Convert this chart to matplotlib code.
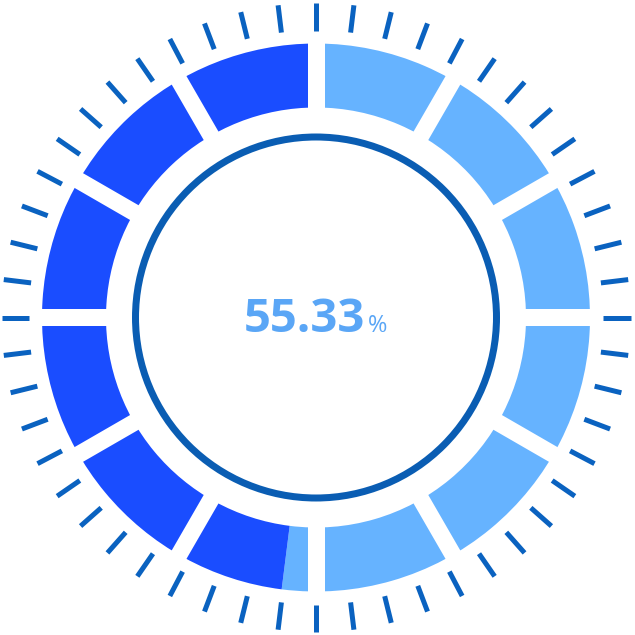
import numpy as np
import matplotlib
matplotlib.use("Agg")
import matplotlib.pyplot as plt
from matplotlib.patches import Wedge, Circle, Polygon

# ---- data ----
value_label = 55.33          # percentage shown in the centre
light_share = 0.52           # share of the ring drawn in light blue (clockwise from top)
n_segments = 12              # ring segments
n_ticks = 52                 # outer tick marks

# ---- style ----
W = H = 635
cx, cy = 316.0, 317.5
r_out, r_in = 274.0, 210.0
gap_w = 17.0
tick_r0, tick_r1 = 287.0, 314.5
circle_r = 180.5
light_col = "#66b3ff"
dark_col = "#1a4dff"
tick_col = "#0a62c0"
circle_col = "#0a5db3"
text_col = "#5aa6f6"

fig = plt.figure(figsize=(W / 100, H / 100), dpi=100)
ax = fig.add_axes([0, 0, 1, 1])
ax.set_xlim(0, W)
ax.set_ylim(0, H)
ax.set_aspect("equal")
ax.axis("off")

def math_angle(a):  # clockwise-from-top degrees -> matplotlib degrees
    return 90.0 - a

split = light_share * 360.0
ax.add_patch(Wedge((cx, cy), r_out, math_angle(split), 90, width=r_out - r_in,
                   facecolor=light_col, edgecolor="none"))
ax.add_patch(Wedge((cx, cy), r_out, 90, math_angle(split) + 360, width=r_out - r_in,
                   facecolor=dark_col, edgecolor="none"))

# white gaps between segments (parallel-sided)
for k in range(n_segments):
    a = np.deg2rad(k * 360.0 / n_segments)
    ux, uy = np.sin(a), np.cos(a)
    px, py = -uy, ux
    r0, r1 = r_in - 5, r_out + 5
    h = gap_w / 2
    pts = [(cx + ux * r0 + px * h, cy + uy * r0 + py * h),
           (cx + ux * r1 + px * h, cy + uy * r1 + py * h),
           (cx + ux * r1 - px * h, cy + uy * r1 - py * h),
           (cx + ux * r0 - px * h, cy + uy * r0 - py * h)]
    ax.add_patch(Polygon(pts, closed=True, facecolor="white", edgecolor="none"))

# outer ticks
for k in range(n_ticks):
    a = np.deg2rad(k * 360.0 / n_ticks)
    ux, uy = np.sin(a), np.cos(a)
    ax.plot([cx + ux * tick_r0, cx + ux * tick_r1], [cy + uy * tick_r0, cy + uy * tick_r1],
            color=tick_col, lw=5 * 0.72, solid_capstyle="butt")

# inner circle
ax.add_patch(Circle((cx, cy), circle_r, facecolor="none", edgecolor=circle_col, lw=7 * 0.72))

# centre text
ax.text(365, H - 332, f"{value_label:.2f}", ha="right", va="baseline",
        fontsize=34, fontweight="bold", color=text_col, family=["Open Sans", "DejaVu Sans"])
ax.text(368, H - 332, "%", ha="left", va="baseline",
        fontsize=17, color=text_col, family=["Open Sans", "DejaVu Sans"])

fig.savefig("out.png", dpi=100)
